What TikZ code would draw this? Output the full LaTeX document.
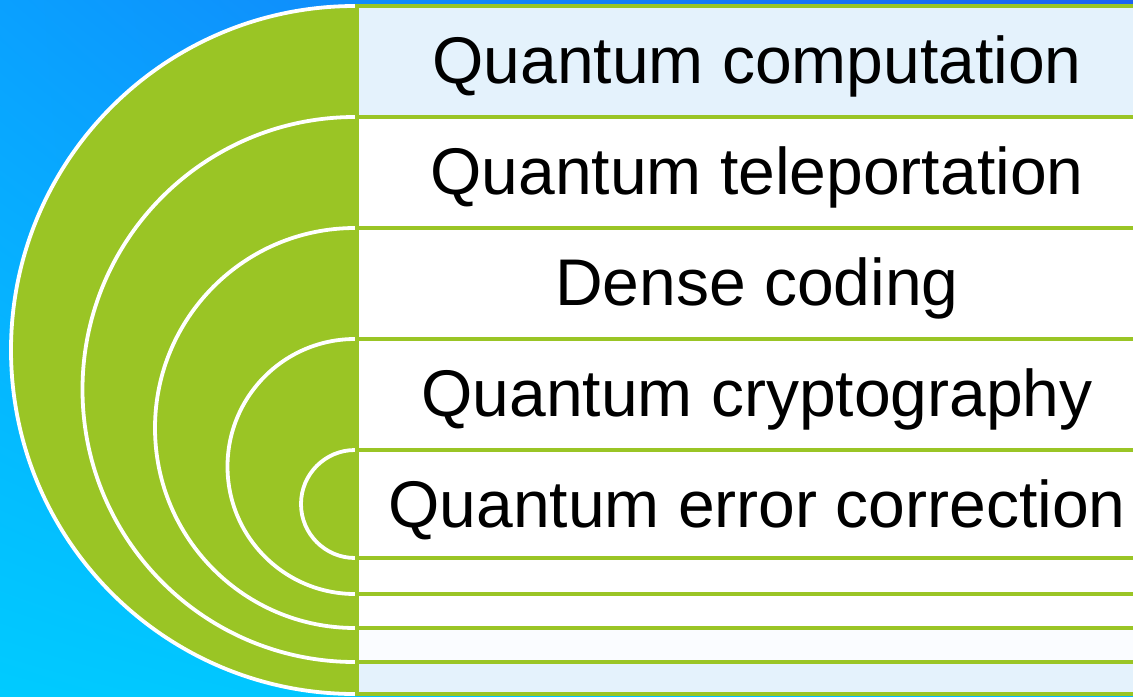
\documentclass[tikz,border=0pt]{standalone}
\usepackage{fontspec}
\setmainfont{Liberation Sans}
\usetikzlibrary{positioning,shadings}
\definecolor{qGreen}{HTML}{9AC525}
\definecolor{bgTL}{HTML}{0AA0FF}
\definecolor{bgTR}{HTML}{1C62F2}
\definecolor{bgBL}{HTML}{00CBFF}
\definecolor{bgBR}{HTML}{05B8FF}
\definecolor{rowSky}{HTML}{E4F2FC}
\definecolor{rowPale}{HTML}{FAFCFF}
\tikzset{
  % green half discs, outlined in white along the arc
  qarc/.style={draw=white, line width=1.9pt},
  % the bands on the right
  qrow/.style={draw=qGreen, fill=white, line width=2pt},
  qlbl/.style={font=\fontsize{33}{36}\selectfont, text=black, anchor=base, inner sep=0pt},
}

\begin{document}
\begin{tikzpicture}[x=0.5pt,y=-0.5pt]
  \useasboundingbox (0,0) rectangle (1133,696);
  \shade[upper left=bgTL, upper right=bgTR, lower left=bgBL, lower right=bgBR]
    (0,0) rectangle (1133,696);

  % nested half discs: top edge / radius
  \foreach \t/\r in {6/344,117/272.5,228/200,339/127.5,450/54}{
    \fill[qGreen] (355,\t) arc[start angle=270, end angle=90, radius=\r] -- cycle;
    \draw[qarc] (355,\t) arc[start angle=270, end angle=90, radius=\r];
  }

  % bands
  \draw[qrow, fill=rowSky] (357,6) rectangle (1170,117);
  \foreach \t/\b in {117/228,228/339,339/450,450/558,558/594,594/628}
    \draw[qrow] (357,\t) rectangle (1170,\b);
  \draw[qrow, fill=rowPale] (357,628) rectangle (1170,662);
  \draw[qrow, fill=rowSky] (357,662) rectangle (1170,694);

  \node[qlbl] (comp) at (757,83)  {Quantum computation};
  \node[qlbl] (tele) at (757,194) {Quantum teleportation};
  \node[qlbl] (dense) at (757,305) {Dense coding};
  \node[qlbl] (crypt) at (757,416) {Quantum cryptography};
  \node[qlbl] (qec) at (757,527)  {Quantum error correction};
\end{tikzpicture}
\end{document}
